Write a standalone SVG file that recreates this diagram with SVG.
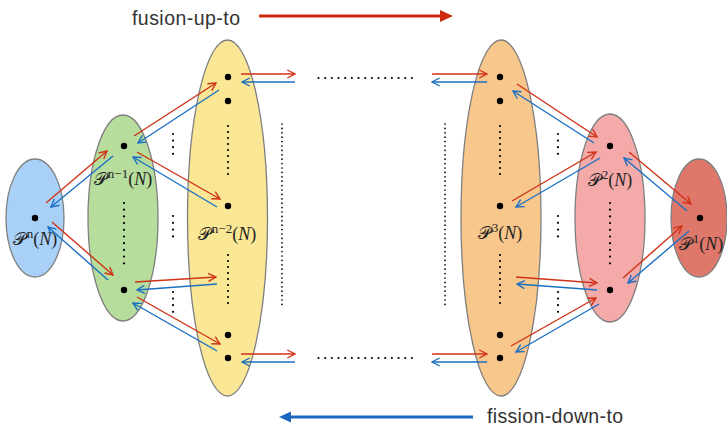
<svg xmlns="http://www.w3.org/2000/svg" width="727" height="427" viewBox="0 0 727 427">
<defs>
<marker id="ar" markerUnits="userSpaceOnUse" markerWidth="10" markerHeight="10" viewBox="0 0 10 10" refX="9.2" refY="5" orient="auto"><path d="M1.5,1 L9.2,5 L1.5,9" fill="none" stroke="#d03217" stroke-width="1.4"/></marker>
<marker id="ab" markerUnits="userSpaceOnUse" markerWidth="10" markerHeight="10" viewBox="0 0 10 10" refX="9.2" refY="5" orient="auto"><path d="M1.5,1 L9.2,5 L1.5,9" fill="none" stroke="#1c6fc4" stroke-width="1.4"/></marker>
</defs>
<style>
.set{stroke:#7f7f7f;stroke-width:1.3}
.pt{fill:#000}
.dots{stroke:#000;stroke-width:2.2;stroke-linecap:round;fill:none}
.fdots{stroke:#000;stroke-width:1.7;stroke-linecap:round;fill:none;stroke-dasharray:0 4.4}
.lab{font-family:"Liberation Serif","DejaVu Serif",serif;font-size:18px;fill:#222;text-anchor:middle}
.sup{font-size:13px}
.it{font-style:italic}
.r{stroke:#d03217;stroke-width:1.4;fill:none;marker-end:url(#ar)}
.b{stroke:#1c6fc4;stroke-width:1.4;fill:none;marker-end:url(#ab)}
.leg{font-family:"Liberation Sans","Helvetica",sans-serif;font-size:19.5px;fill:#333}
</style>
<rect width="727" height="427" fill="#fff"/>

<g id="legend-fusion">
<text class="leg" x="132" y="25" textLength="108">fusion-up-to</text>
<line x1="259" y1="16" x2="442" y2="16" stroke="#cc2a0c" stroke-width="3"/>
<polygon points="440,10 453,16 440,22" fill="#cc2a0c"/>
</g>
<g id="legend-fission">
<line x1="473" y1="417" x2="290" y2="417" stroke="#1a66c0" stroke-width="3"/>
<polygon points="291,411.5 279,417 291,422.5" fill="#1a66c0"/>
<text class="leg" x="487" y="423" textLength="136">fission-down-to</text>
</g>

<g id="Pn">
<ellipse class="set" cx="35" cy="218" rx="29" ry="59" fill="#a9d1f8"/>
<circle class="pt" cx="35" cy="218" r="3.2"/>
<text class="lab" x="35" y="245">𝒫<tspan class="sup" dx="1" dy="-7">n</tspan><tspan dy="7">(</tspan><tspan class="it">N</tspan>)</text>
</g>
<g id="Pn-1">
<ellipse class="set" cx="123" cy="218" rx="35" ry="103" fill="#b6dd9c"/>
<circle class="pt" cx="124" cy="146" r="3.2"/>
<circle class="pt" cx="124" cy="290" r="3.2"/>
<line class="dots" x1="124" y1="203" x2="124" y2="264" stroke-dasharray="0 6.7"/>
<text class="lab" x="123" y="185">𝒫<tspan class="sup" dx="1" dy="-7">n−1</tspan><tspan dy="7">(</tspan><tspan class="it">N</tspan>)</text>
</g>
<g id="Pn-2">
<ellipse class="set" cx="227.5" cy="218" rx="40" ry="178" fill="#f9e796"/>
<circle class="pt" cx="228" cy="77" r="3.2"/>
<circle class="pt" cx="228" cy="101" r="3.2"/>
<circle class="pt" cx="228" cy="206" r="3.2"/>
<circle class="pt" cx="228" cy="335" r="3.2"/>
<circle class="pt" cx="228" cy="358" r="3.2"/>
<line class="dots" x1="228" y1="126" x2="228" y2="180" stroke-dasharray="0 6" stroke-width="2"/>
<line class="dots" x1="228" y1="255" x2="228" y2="309" stroke-dasharray="0 6" stroke-width="2"/>
<text class="lab" x="227" y="240">𝒫<tspan class="sup" dx="1" dy="-7">n−2</tspan><tspan dy="7">(</tspan><tspan class="it">N</tspan>)</text>
</g>
<g id="P3">
<ellipse class="set" cx="501" cy="218" rx="40" ry="178" fill="#f7c78b"/>
<circle class="pt" cx="500" cy="77" r="3.2"/>
<circle class="pt" cx="500" cy="101" r="3.2"/>
<circle class="pt" cx="500" cy="206" r="3.2"/>
<circle class="pt" cx="500" cy="335" r="3.2"/>
<circle class="pt" cx="500" cy="358" r="3.2"/>
<line class="dots" x1="500" y1="126" x2="500" y2="180" stroke-dasharray="0 6" stroke-width="2"/>
<line class="dots" x1="500" y1="255" x2="500" y2="309" stroke-dasharray="0 6" stroke-width="2"/>
<text class="lab" x="500" y="239">𝒫<tspan class="sup" dx="1" dy="-7">3</tspan><tspan dy="7">(</tspan><tspan class="it">N</tspan>)</text>
</g>
<g id="P2">
<ellipse class="set" cx="610" cy="218" rx="35" ry="104" fill="#f4aaa9"/>
<circle class="pt" cx="610" cy="146" r="3.2"/>
<circle class="pt" cx="610" cy="290" r="3.2"/>
<line class="dots" x1="610" y1="203" x2="610" y2="264" stroke-dasharray="0 6.7"/>
<text class="lab" x="610" y="186">𝒫<tspan class="sup" dx="1" dy="-7">2</tspan><tspan dy="7">(</tspan><tspan class="it">N</tspan>)</text>
</g>
<g id="P1">
<ellipse class="set" cx="699" cy="218" rx="28" ry="59" fill="#df786a"/>
<circle class="pt" cx="700" cy="218" r="3.2"/>
<text class="lab" x="701" y="250">𝒫<tspan class="sup" dx="1" dy="-7">1</tspan><tspan dy="7">(</tspan><tspan class="it">N</tspan>)</text>
</g>

<g id="ellipsis">
<line class="dots" x1="173" y1="134" x2="173" y2="154" stroke-dasharray="0 6.6" stroke-width="2"/>
<line class="dots" x1="173" y1="216" x2="173" y2="237" stroke-dasharray="0 6.8" stroke-width="2"/>
<line class="dots" x1="173" y1="292" x2="173" y2="312" stroke-dasharray="0 6.6" stroke-width="2"/>
<line class="dots" x1="558" y1="134" x2="558" y2="154" stroke-dasharray="0 6.6" stroke-width="2"/>
<line class="dots" x1="558" y1="216" x2="558" y2="237" stroke-dasharray="0 6.8" stroke-width="2"/>
<line class="dots" x1="558" y1="292" x2="558" y2="312" stroke-dasharray="0 6.6" stroke-width="2"/>
<line class="fdots" x1="282" y1="124" x2="282" y2="308"/>
<line class="fdots" x1="445" y1="124" x2="445" y2="308"/>
<line class="dots" x1="318.5" y1="78" x2="412" y2="78" stroke-dasharray="0 6.67" stroke-width="2"/>
<line class="dots" x1="318.5" y1="358" x2="412" y2="358" stroke-dasharray="0 6.67" stroke-width="2"/>
</g>

<g id="connectors">
<line class="r" x1="46" y1="203" x2="107" y2="151"/>
<line class="r" x1="52" y1="222" x2="113" y2="275"/>
<line class="r" x1="134" y1="136" x2="216" y2="83"/>
<line class="r" x1="137" y1="152" x2="220" y2="199"/>
<line class="r" x1="135" y1="282" x2="216" y2="277"/>
<line class="r" x1="137" y1="297" x2="220" y2="344"/>
<line class="r" x1="241" y1="74" x2="295" y2="74"/>
<line class="r" x1="241" y1="354" x2="295" y2="354"/>
<line class="r" x1="432" y1="74" x2="487" y2="74"/>
<line class="r" x1="432" y1="354" x2="487" y2="354"/>
<line class="r" x1="517" y1="84" x2="597" y2="137"/>
<line class="r" x1="512" y1="201" x2="596" y2="152"/>
<line class="r" x1="516" y1="277" x2="597" y2="283"/>
<line class="r" x1="511" y1="346" x2="596" y2="298"/>
<line class="r" x1="629" y1="152" x2="691" y2="204"/>
<line class="r" x1="623" y1="278" x2="682" y2="226"/>
<line class="b" x1="113" y1="156" x2="51" y2="207"/>
<line class="b" x1="108" y1="280" x2="48" y2="227"/>
<line class="b" x1="219" y1="90" x2="138" y2="143"/>
<line class="b" x1="217" y1="207" x2="133" y2="157"/>
<line class="b" x1="217" y1="284" x2="137" y2="290"/>
<line class="b" x1="217" y1="351" x2="133" y2="303"/>
<line class="b" x1="295" y1="82" x2="242" y2="82"/>
<line class="b" x1="295" y1="362" x2="242" y2="362"/>
<line class="b" x1="487" y1="82" x2="432" y2="82"/>
<line class="b" x1="487" y1="362" x2="432" y2="362"/>
<line class="b" x1="594" y1="143" x2="513" y2="91"/>
<line class="b" x1="600" y1="158" x2="516" y2="207"/>
<line class="b" x1="597" y1="290" x2="517" y2="284"/>
<line class="b" x1="599" y1="304" x2="516" y2="352"/>
<line class="b" x1="687" y1="211" x2="624" y2="158"/>
<line class="b" x1="689" y1="231" x2="628" y2="283"/>
</g>
</svg>
